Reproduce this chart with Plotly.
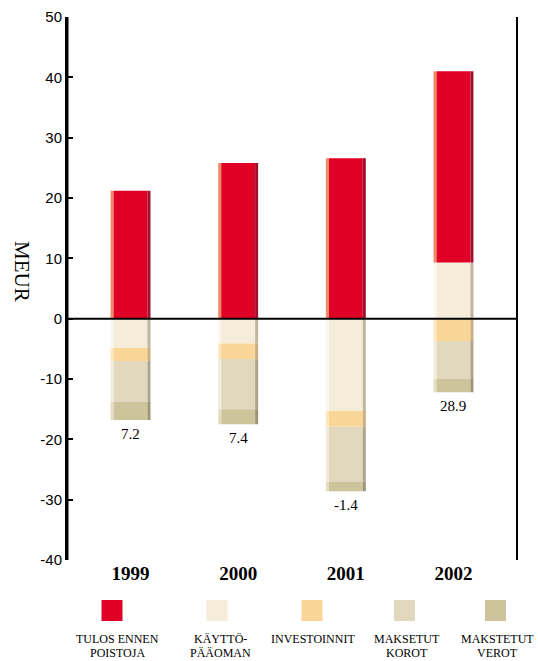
import plotly.graph_objects as go

# Cash-flow components per year, MEUR
years = ["1999", "2000", "2001", "2002"]
kayttopaaoma = [-4.8, -4.1, -15.3, 9.3]     # change in working capital
tulos = [21.2, 25.8, 26.6, 31.7]            # result before depreciation
investoinnit = [-2.2, -2.6, -2.6, -3.7]
korot = [-6.8, -8.3, -9.1, -6.3]
verot = [-3.0, -2.5, -1.6, -2.2]
net_labels = ["7.2", "7.4", "-1.4", "28.9"]
ytick_vals = [-40, -30, -20, -10, 0, 10, 20, 30, 40, 50]
ytick_text = ["-40", "-30", "-20", "-10", "0", "10", "20", "30", "40", "50"]
Y_RANGE = [-40, 50]

legend_names = [["TULOS ENNEN", "POISTOJA"], ["KÄYTTÖ-", "PÄÄOMAN", "MUUTOS"],
                ["INVESTOINNIT"], ["MAKSETUT", "KOROT"], ["MAKSTETUT", "VEROT"]]

# stacking order: working capital nearest zero, result on top of it
series = [kayttopaaoma, tulos, investoinnit, korot, verot]
main_cols = ["#F5ECDA", "#E00026", "#FAD598", "#E1D8BE", "#CEC49C"]
dark_cols = ["#BFB69C", "#A0102C", "#C9AE80", "#ADA58A", "#9E9574"]
light_cols = ["#FAF7F0", "#F08A66", "#FCE6BE", "#F1ECDD", "#E4DDC2"]
legend_cols = ["#E00026", "#F5ECDA", "#FAD598", "#E1D8BE", "#CEC49C"]

xpos = list(range(len(years)))
W = 0.371      # bar width in category units
EDGE = 0.028   # bevel strip width
XR = [-0.59, 3.59]

fig = go.Figure()

def add_column(colors, shift, width):
    # each column position stacks on its own
    xs = [x + shift for x in xpos]
    for vals, col in zip(series, colors):
        fig.add_trace(go.Bar(
            x=xs, y=vals, width=[width] * len(xs),
            marker=dict(color=col, line=dict(width=0)),
            hoverinfo="skip", showlegend=False))

# bevelled bars: light left strip, main face, dark right strip
add_column(light_cols, -W / 2 + EDGE / 2, EDGE)
add_column(main_cols, 0, W - 2 * EDGE)
add_column(dark_cols, W / 2 - EDGE / 2, EDGE)

# left frame line along the value axis
fig.add_trace(go.Scatter(
    x=[XR[0], XR[0]], y=Y_RANGE, mode="lines", cliponaxis=False,
    line=dict(color="black", width=3), hoverinfo="skip", showlegend=False))

L, R, T, B = 67, 517, 17, 560
def px_x(p):
    return (p - L) / (R - L)
def px_y(p):
    return (B - p) / (B - T)

annotations = []
# net values below each bar
for i, lab in enumerate(net_labels):
    bottom = sum(v[i] for v in series if v[i] < 0)
    annotations.append(dict(
        x=i, y=bottom, xref="x", yref="y", text=lab, showarrow=False,
        xanchor="center", yanchor="top", yshift=-4,
        font=dict(family="Liberation Serif", size=15, color="black")))

annotations.append(dict(
    x=px_x(22), y=px_y(271), xref="paper", yref="paper", text="MEUR",
    showarrow=False, textangle=90, xanchor="center", yanchor="middle",
    font=dict(family="Liberation Serif", size=21, color="black")))

# legend: swatches above centred captions
shapes = []
sw_centers = [112, 217, 312, 404.5, 495.5]
txt_centers = [117, 220, 313, 407, 497]
for c, tc, col, lines in zip(sw_centers, txt_centers, legend_cols, legend_names):
    shapes.append(dict(type="rect", xref="paper", yref="paper",
                       x0=px_x(c - 10.5), x1=px_x(c + 10.5),
                       y0=px_y(621), y1=px_y(600),
                       fillcolor=col, line=dict(width=0)))
    for k, line in enumerate(lines):
        annotations.append(dict(
            x=px_x(tc), y=px_y(639 + 14 * k), xref="paper", yref="paper",
            text=line, showarrow=False, xanchor="center", yanchor="middle",
            font=dict(family="Liberation Serif", size=12, color="black")))

# frame lines and zero line drawn over the bars
shapes.append(dict(type="line", xref="paper", yref="paper",
                   x0=px_x(66.5), x1=px_x(66.5), y0=0, y1=1,
                   line=dict(color="black", width=3), layer="above"))
shapes.append(dict(type="line", xref="paper", yref="paper",
                   x0=1, x1=1, y0=0, y1=1,
                   line=dict(color="black", width=2), layer="above"))
shapes.append(dict(type="line", xref="paper", yref="y", x0=0, x1=1, y0=0, y1=0,
                   line=dict(color="black", width=2), layer="above"))

fig.update_layout(
    template="none",
    width=538, height=661,
    margin=dict(l=L, r=538 - R, t=T, b=661 - B),
    paper_bgcolor="white", plot_bgcolor="white",
    barmode="relative",
    showlegend=False,
    xaxis=dict(range=XR, tickvals=xpos, ticktext=["<b>%s</b>" % y for y in years],
               showgrid=False, zeroline=False, showline=False, ticks="",
               automargin=False,
               tickfont=dict(family="Liberation Serif", size=19, color="black")),
    yaxis=dict(range=Y_RANGE, tickvals=ytick_vals, ticktext=ytick_text,
               showgrid=False, zeroline=False, showline=True, linecolor="black",
               linewidth=2, mirror=False, automargin=False,
               ticks="inside", ticklen=6, tickwidth=2, tickcolor="black",
               tickfont=dict(family="Liberation Sans", size=15, color="black")),
    shapes=shapes,
    annotations=annotations,
)

fig.write_html("out.html")
